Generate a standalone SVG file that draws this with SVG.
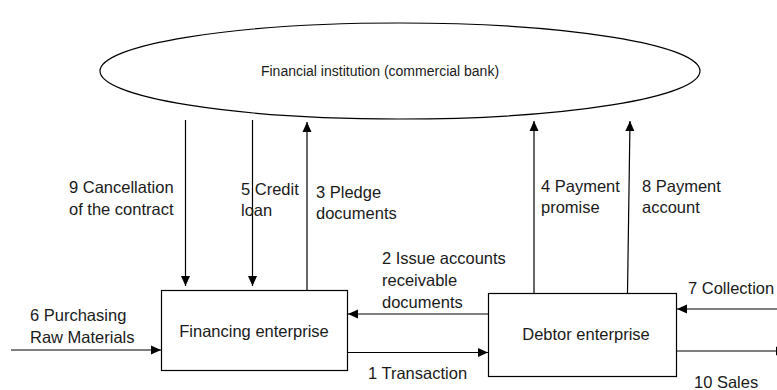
<svg xmlns="http://www.w3.org/2000/svg" width="777" height="390" viewBox="0 0 777 390">
  <style>
    .shape { fill: #ffffff; stroke: #000000; stroke-width: 1.2; }
    .edge { fill: none; stroke: #000000; stroke-width: 1.2; marker-end: url(#arrow); }
    text { font-family: "Liberation Sans", Arial, Helvetica, sans-serif; font-size: 16.5px; fill: #1a1a1a; }
    .small { font-size: 14px; }
  </style>
  <defs>
    <marker id="arrow" viewBox="0 0 10 10" refX="10" refY="5" markerWidth="10" markerHeight="10" markerUnits="userSpaceOnUse" orient="auto">
      <path d="M0,0.5 L10,5 L0,9.5 Z" fill="#000000"/>
    </marker>
  </defs>

  <rect width="777" height="390" fill="#ffffff"/>

  <!-- Bank -->
  <g id="bank">
    <ellipse class="shape" cx="400" cy="71" rx="300" ry="48"/>
    <text class="small" x="380" y="76" text-anchor="middle">Financial institution (commercial bank)</text>
  </g>

  <!-- Financing enterprise -->
  <g id="financing">
    <rect class="shape" x="161.5" y="290.5" width="186" height="80"/>
    <text x="254" y="337" text-anchor="middle">Financing enterprise</text>
  </g>

  <!-- Debtor enterprise -->
  <g id="debtor">
    <rect class="shape" x="488.5" y="293.5" width="188" height="83"/>
    <text x="586" y="340" text-anchor="middle">Debtor enterprise</text>
  </g>

  <!-- Flows -->
  <g id="connectors">
    <line class="edge" x1="185.5" y1="120" x2="185.5" y2="286"/>
    <line class="edge" x1="252.5" y1="120" x2="252.5" y2="286"/>
    <line class="edge" x1="307" y1="290" x2="307" y2="122"/>
    <line class="edge" x1="534" y1="293" x2="534" y2="121"/>
    <line class="edge" x1="627.5" y1="293" x2="630" y2="121"/>
    <line class="edge" x1="488" y1="314" x2="348" y2="314"/>
    <line class="edge" x1="348" y1="352.5" x2="488" y2="352.5"/>
    <line class="edge" x1="11" y1="350" x2="161" y2="350"/>
    <line class="edge" x1="777" y1="309" x2="677" y2="309"/>
    <line class="edge" x1="677" y1="351" x2="786" y2="351"/>
  </g>

  <!-- Flow labels -->
  <g id="labels">
    <text x="69" y="193">9 Cancellation</text>
    <text x="69" y="215">of the contract</text>
    <text x="241" y="195">5 Credit</text>
    <text x="241" y="216">loan</text>
    <text x="316" y="198">3 Pledge</text>
    <text x="316" y="219">documents</text>
    <text x="541" y="192">4 Payment</text>
    <text x="541" y="213">promise</text>
    <text x="642" y="192">8 Payment</text>
    <text x="642" y="213">account</text>
    <text x="382" y="264">2 Issue accounts</text>
    <text x="382" y="286">receivable</text>
    <text x="382" y="308">documents</text>
    <text x="688" y="294">7 Collection</text>
    <text x="30" y="321">6 Purchasing</text>
    <text x="30" y="343">Raw Materials</text>
    <text x="368" y="379">1 Transaction</text>
    <text x="694" y="388">10 Sales</text>
  </g>
</svg>
